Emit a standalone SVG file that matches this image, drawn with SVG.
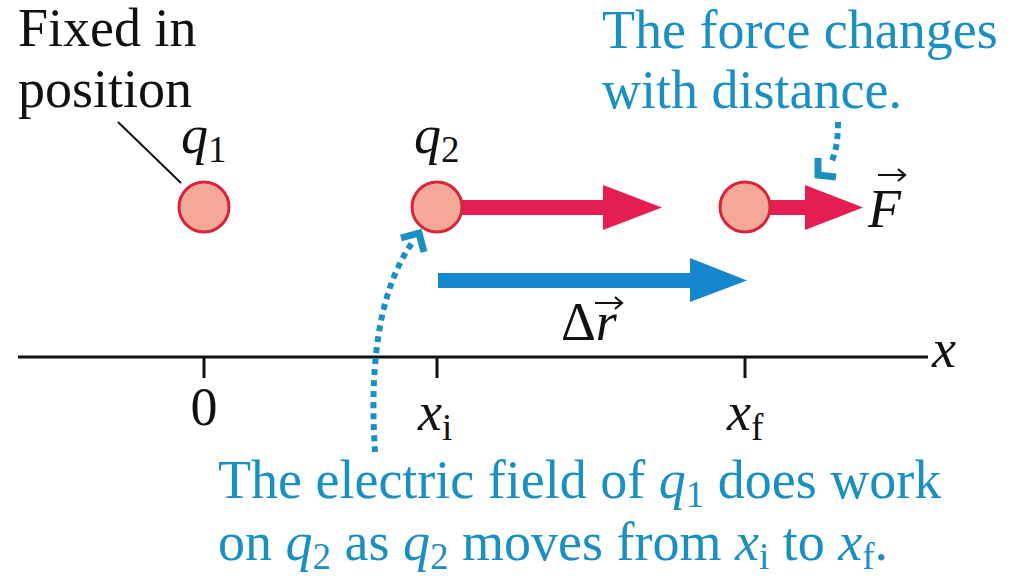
<svg xmlns="http://www.w3.org/2000/svg" width="1017" height="576" viewBox="0 0 1017 576">
<defs>
<style>
text{font-family:'Liberation Serif','Times New Roman',serif;font-size:54px;fill:#111}
.blue{fill:#1a8fc2}
.it{font-style:italic}
.sub{font-size:37px}
.charge{fill:#f4a898;stroke:#d6263e;stroke-width:3}
.red{fill:#e51d52}
.bl{fill:#1687cf}
.dots{fill:none;stroke:#1a8fc2;stroke-width:6;stroke-dasharray:6 5}
.chev{fill:none;stroke:#1a8fc2;stroke-width:7;stroke-linejoin:miter}
.axis{stroke:#111;stroke-width:3}
.vec{fill:none;stroke:#111;stroke-width:2.2}
</style>
</defs>
<rect width="1017" height="576" fill="#fff"/>

<g id="axis">
<line class="axis" x1="18" y1="357" x2="928" y2="357"/>
<line class="axis" x1="204" y1="357" x2="204" y2="378"/>
<line class="axis" x1="437" y1="357" x2="437" y2="378"/>
<line class="axis" x1="745" y1="357" x2="745" y2="378"/>
<text class="it" x="932" y="367">x</text>
<text x="204" y="425" text-anchor="middle">0</text>
<text x="418" y="430"><tspan class="it">x</tspan><tspan class="sub" dy="10">i</tspan></text>
<text x="727" y="430"><tspan class="it">x</tspan><tspan class="sub" dy="10">f</tspan></text>
</g>

<g id="fixed-label">
<text x="18" y="46">Fixed in</text>
<text x="18" y="107">position</text>
</g>

<g id="q1">
<circle class="charge" cx="204" cy="207" r="25"/>
<text x="181" y="153"><tspan class="it">q</tspan><tspan class="sub" dy="9">1</tspan></text>
</g>

<g id="q2">
<rect class="red" x="458" y="200" width="148" height="15"/>
<polygon class="red" points="603,185 662,207.5 603,230"/>
<circle class="charge" cx="437" cy="207" r="25"/>
<text x="414" y="153"><tspan class="it">q</tspan><tspan class="sub" dy="9">2</tspan></text>
</g>

<g id="q2-final">
<rect class="red" x="766" y="200" width="42" height="15"/>
<polygon class="red" points="805,185 863,207.5 805,230"/>
<circle class="charge" cx="745" cy="207" r="25"/>
<text class="it" x="868" y="227">F</text>
<path class="vec" d="M878 175 H905 M898 169 L905 175 L898 181"/>
</g>

<g id="displacement">
<rect class="bl" x="438" y="273" width="255" height="15"/>
<polygon class="bl" points="690,258 747,280.5 690,302"/>
<text x="561" y="340">Δ<tspan class="it">r</tspan></text>
<path class="vec" d="M595 303 H622 M615 297 L622 303 L615 309"/>
</g>

<g id="connectors">
<line x1="118" y1="122" x2="181" y2="183" stroke="#111" stroke-width="2"/>
<path class="dots" d="M375 452 C371 390 372 300 412 243"/>
<path class="chev" d="M401 238 L419 233 L424 252"/>
<path class="dots" d="M838 122 C838 140 836 152 831 163"/>
<path class="chev" d="M818 158 L818 175 L836 177"/>
</g>

<g id="force-note">
<text class="blue" x="602" y="48">The force changes</text>
<text class="blue" x="602" y="108">with distance.</text>
</g>

<g id="work-note">
<text class="blue" x="218" y="498">The electric field of <tspan class="it">q</tspan><tspan class="sub" dy="9">1</tspan><tspan dy="-9"> does work</tspan></text>
<text class="blue" x="218" y="560">on <tspan class="it">q</tspan><tspan class="sub" dy="9">2</tspan><tspan dy="-9"> as </tspan><tspan class="it">q</tspan><tspan class="sub" dy="9">2</tspan><tspan dy="-9"> moves from </tspan><tspan class="it">x</tspan><tspan class="sub" dy="9">i</tspan><tspan dy="-9"> to </tspan><tspan class="it">x</tspan><tspan class="sub" dy="9">f</tspan><tspan dy="-9">.</tspan></text>
</g>
</svg>
